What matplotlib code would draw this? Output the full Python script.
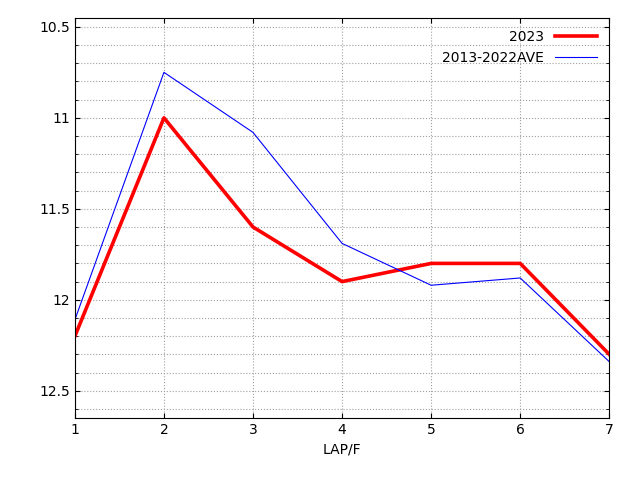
import matplotlib.pyplot as plt
from matplotlib.ticker import MultipleLocator

laps = [1, 2, 3, 4, 5, 6, 7]
y2023 = [12.2, 11.0, 11.6, 11.9, 11.8, 11.8, 12.3]
yave = [12.11, 10.75, 11.08, 11.69, 11.92, 11.88, 12.34]

fig = plt.figure(figsize=(6.4, 4.8), dpi=100)
ax = fig.add_axes([0.117, 0.129, 0.835, 0.834])
ax.plot(laps, y2023, color='#ff0000', lw=2.6, label='2023')
ax.plot(laps, yave, color='#0000ff', lw=0.8, label='2013-2022AVE')

ax.set_xlim(1, 7)
ax.set_ylim(12.65, 10.45)
ax.set_xticks(laps)
ax.set_yticks([10.5, 11, 11.5, 12, 12.5])
ax.set_yticklabels(['10.5', '11', '11.5', '12', '12.5'])
ax.yaxis.set_minor_locator(MultipleLocator(0.1))
ax.grid(True, which='both', color='#a0a0a0', ls=':', lw=0.8)
ax.tick_params(which='both', direction='in', top=True, right=True)
ax.set_xlabel('LAP/F')
ax.legend(loc='upper right', frameon=False, markerfirst=False, handlelength=3)
fig.savefig('out.png')
